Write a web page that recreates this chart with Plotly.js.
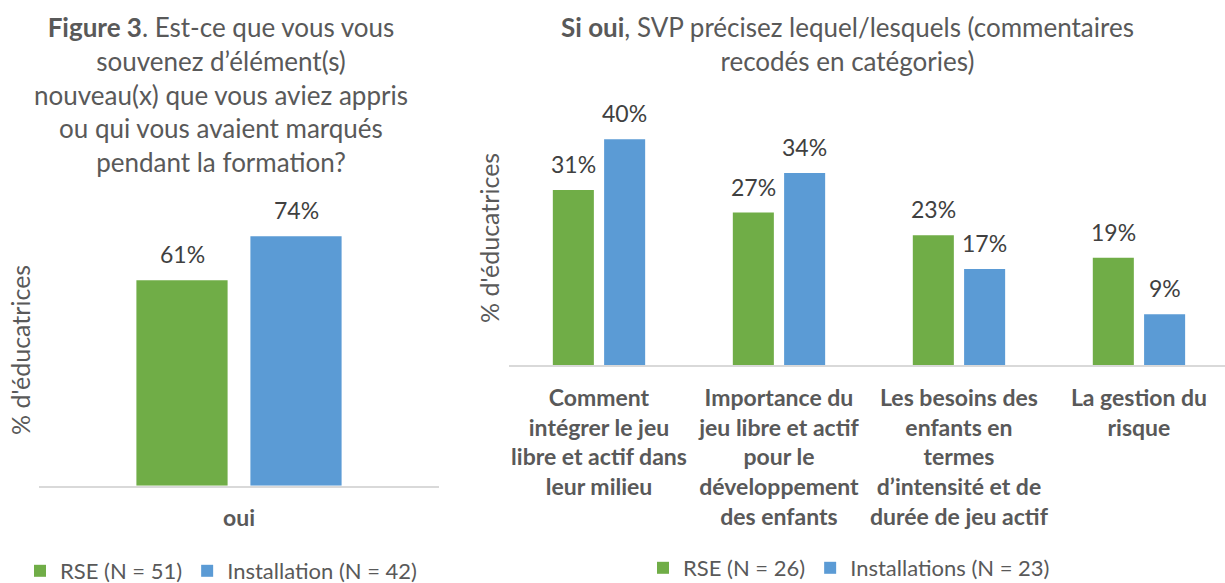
<!DOCTYPE html>
<html>
<head>
<meta charset="utf-8">
<script src="https://cdn.plot.ly/plotly-3.0.1.min.js"></script>
<style>
  html, body { margin: 0; padding: 0; background: #fff; }
  #chart { width: 1225px; height: 583px; }
</style>
</head>
<body>
<div id="chart"></div>
<script>
// Figure 3 (left): souvenir d'éléments nouveaux
const leftCategories = ['oui'];
const leftRse = [0.61];
const leftInstallation = [0.74];
const leftRseName = 'RSE (N = 51)';
const leftInstallationName = 'Installation (N = 42)';

// Si oui (right): catégories recodées
const rightCategories = [
    'Comment<br>intégrer le jeu<br>libre et actif dans<br>leur milieu',
    'Importance du<br>jeu libre et actif<br>pour le<br>développement<br>des enfants',
    'Les besoins des<br>enfants en<br>termes<br>d’intensité et de<br>durée de jeu actif',
    'La gestion du<br>risque'
];
const rightRse = [0.31, 0.27, 0.23, 0.19];
const rightInstallations = [0.40, 0.34, 0.17, 0.09];
const rightRseName = 'RSE (N = 26)';
const rightInstallationsName = 'Installations (N = 23)';

const GREEN = '#70AD47';
const BLUE = '#5B9BD5';
const TEXT = '#595959';
const LABEL = '#404040';
const FONT = 'Lato, "Open Sans", sans-serif';
const W = 1225;
const H = 583;

const px = (v) => v / W;
const py = (v) => (H - v) / H;
const pct = (v) => Math.round(v * 100) + '%';

const traces = [
    { type: 'bar', x: leftCategories, y: leftRse, name: leftRseName,
      marker: { color: GREEN }, xaxis: 'x', yaxis: 'y', legend: 'legend', hoverinfo: 'skip' },
    { type: 'bar', x: leftCategories, y: leftInstallation, name: leftInstallationName,
      marker: { color: BLUE }, xaxis: 'x', yaxis: 'y', legend: 'legend', hoverinfo: 'skip' },
    { type: 'bar', x: rightCategories, y: rightRse, name: rightRseName,
      marker: { color: GREEN }, xaxis: 'x2', yaxis: 'y2', legend: 'legend2', hoverinfo: 'skip' },
    { type: 'bar', x: rightCategories, y: rightInstallations, name: rightInstallationsName,
      marker: { color: BLUE }, xaxis: 'x2', yaxis: 'y2', legend: 'legend2', hoverinfo: 'skip' }
];

// data labels above each bar (offset to the bar inside its group)
const annotations = [];
const addLabels = (cats, vals, xref, yref, shift) => {
    cats.forEach((c, i) => {
        annotations.push({
            x: c, y: vals[i], xref, yref, text: pct(vals[i]), showarrow: false,
            yanchor: 'bottom', xshift: shift, yshift: 10,
            font: { family: FONT, size: 23, color: LABEL }
        });
    });
};
addLabels(leftCategories, leftRse, 'x', 'y', -57);
addLabels(leftCategories, leftInstallation, 'x', 'y', 57);
addLabels(rightCategories, rightRse, 'x2', 'y2', -25.6);
addLabels(rightCategories, rightInstallations, 'x2', 'y2', 25.6);

// titles
annotations.push({
    xref: 'paper', yref: 'paper', x: px(221), y: py(9), xanchor: 'center', yanchor: 'top',
    showarrow: false, align: 'center',
    text: '<b>Figure 3</b>. Est-ce que vous vous<br>souvenez d’élément(s)<br>nouveau(x) que vous aviez appris<br>ou qui vous avaient marqués<br>pendant la formation?',
    font: { family: FONT, size: 26, color: TEXT }
});
annotations.push({
    xref: 'paper', yref: 'paper', x: px(847), y: py(9), xanchor: 'center', yanchor: 'top',
    showarrow: false, align: 'center',
    text: '<b>Si oui</b>, SVP précisez lequel/lesquels (commentaires<br>recodés en catégories)',
    font: { family: FONT, size: 26, color: TEXT }
});

// axis titles
const axisTitle = (x, y) => ({
    xref: 'paper', yref: 'paper', x: px(x), y: py(y), xanchor: 'center', yanchor: 'middle',
    showarrow: false, textangle: -90, text: '% d\'éducatrices',
    font: { family: FONT, size: 25, color: TEXT }
});
annotations.push(axisTitle(20, 350));
annotations.push(axisTitle(489, 238));

const xStyle = {
    type: 'category', showline: true, linecolor: '#D9D9D9', linewidth: 2,
    showgrid: false, zeroline: false, ticks: '', fixedrange: true, ticklabelstandoff: 11,
    tickfont: { family: FONT, size: 23, color: TEXT, weight: 'bold' }
};
const yStyle = { visible: false, showgrid: false, zeroline: false, fixedrange: true };

const legendStyle = {
    orientation: 'h', xanchor: 'left', yanchor: 'middle',
    font: { family: FONT, size: 22, color: TEXT }, bgcolor: 'rgba(0,0,0,0)'
};

const layout = {
    width: W,
    height: H,
    margin: { l: 0, r: 0, t: 0, b: 0, autoexpand: false },
    paper_bgcolor: '#fff',
    plot_bgcolor: '#fff',
    barmode: 'group',
    bargap: 0.43,
    bargroupgap: 0.2,
    showlegend: true,
    xaxis: { ...xStyle, domain: [px(39), px(439)], range: [-0.5, 0.5], anchor: 'y' },
    yaxis: { ...yStyle, domain: [py(485.7), py(148.7)], range: [0, 1], anchor: 'x' },
    xaxis2: { ...xStyle, domain: [px(509), 1], range: [-0.5, 3.478], anchor: 'y2' },
    yaxis2: { ...yStyle, domain: [py(365), py(111)], range: [0, 0.45], anchor: 'x2' },
    legend: { ...legendStyle, x: px(20), y: py(571) },
    legend2: { ...legendStyle, x: px(643), y: py(568) },
    annotations
};

Plotly.newPlot('chart', traces, layout, { displayModeBar: false, staticPlot: true });
</script>
</body>
</html>
